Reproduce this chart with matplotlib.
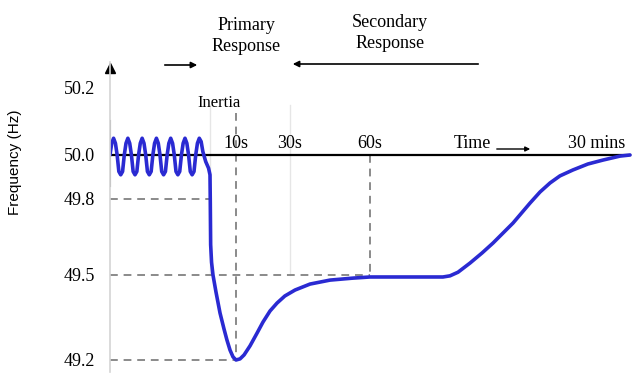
import numpy as np
import matplotlib
matplotlib.use('Agg')
import matplotlib.pyplot as plt

t_osc = [-7.0, -6.88, -6.75, -6.62, -6.5, -6.38, -6.25, -6.12,
         -6.0, -5.88, -5.75, -5.62, -5.5, -5.38, -5.25, -5.12,
         -5.0, -4.88, -4.75, -4.62, -4.5, -4.38, -4.25, -4.12,
         -4.0, -3.88, -3.75, -3.62, -3.5, -3.38, -3.25, -3.12,
         -3.0, -2.88, -2.75, -2.62, -2.5, -2.38, -2.25, -2.12,
         -2.0, -1.88, -1.75, -1.62, -1.5, -1.38, -1.25, -1.12,
         -1.0, -0.88, -0.75, -0.62, -0.5, -0.3, -0.1]
f_osc = [50.0, 50.035, 50.05, 50.035, 50.0, 49.925, 49.91, 49.925,
         50.0, 50.035, 50.05, 50.035, 50.0, 49.925, 49.91, 49.925,
         50.0, 50.035, 50.05, 50.035, 50.0, 49.925, 49.91, 49.925,
         50.0, 50.035, 50.05, 50.035, 50.0, 49.925, 49.91, 49.925,
         50.0, 50.035, 50.05, 50.035, 50.0, 49.925, 49.91, 49.925,
         50.0, 50.035, 50.05, 50.035, 50.0, 49.925, 49.91, 49.925,
         50.0, 50.035, 50.05, 50.04, 50.01, 49.97, 49.94]
t_resp = [0.0, 0.1, 0.25, 0.6, 1.15, 2.3, 3.85, 5.4, 6.5, 7.7, 8.85, 10.0,
          11.5, 13.0, 15.2, 17.8, 20.0, 22.6, 25.2, 28.1, 31.9, 37.5, 45.0,
          53.6, 60.0, 300.0, 548.0, 595.0, 649.0, 729.0, 810.0, 883.0, 1017.0,
          1131.0, 1198.0, 1265.0, 1331.0, 1418.0, 1518.0, 1619.0, 1733.0, 1800.0]
f_resp = [49.91, 49.8, 49.62, 49.55, 49.5, 49.44, 49.366, 49.309, 49.271, 49.235,
          49.211, 49.2, 49.204, 49.218, 49.25, 49.295, 49.334, 49.373, 49.401,
          49.426, 49.447, 49.468, 49.482, 49.489, 49.493, 49.493, 49.493, 49.497,
          49.511, 49.547, 49.587, 49.626, 49.705, 49.784, 49.832, 49.873, 49.905,
          49.932, 49.959, 49.977, 49.995, 50.0]

freq_ticks = [49.2, 49.5, 49.8, 50.0, 50.2]
time_marks = [10, 30, 60, 1579]
time_labels = ['10s', '30s', '60s', '30 mins']

# schematic (non-linear) axes: knots -> pixel positions
t_knots = [-8, -7, 0, 10, 30, 60, 1800, 2000]
x_px = [95.7, 110, 210, 236, 290, 370, 630, 659.9]
f_knots = [49.0, 49.2, 49.5, 49.8, 50.0, 50.2, 50.4]
y_px = [-416.7, -360, -275, -199, -155, -88, -21]


def fx(v):
    return np.interp(v, t_knots, x_px)


def fx_inv(v):
    return np.interp(v, x_px, t_knots)


def fy(v):
    return np.interp(v, f_knots, y_px)


def fy_inv(v):
    return np.interp(v, y_px, f_knots)


serif = 'Liberation Serif'
blue = '#2a2ad2'
dash_grey = '#8a8a8a'

fig = plt.figure(figsize=(6.4, 3.76), dpi=100)
ax = fig.add_axes([110 / 640, 4 / 376, 530 / 640, 310 / 376])
ax.set_xscale('function', functions=(fx, fx_inv))
ax.set_yscale('function', functions=(fy, fy_inv))
ax.set_xlim(fx_inv(110), fx_inv(640))
ax.set_ylim(fy_inv(-372), fy_inv(-62))

for s in ['top', 'right', 'bottom']:
    ax.spines[s].set_visible(False)
ax.spines['left'].set_color('#d4d4d4')
ax.spines['left'].set_linewidth(1.2)
ax.plot(-7, 50.26, marker='^', color='black', ms=7, clip_on=False)
ax.plot([-7, -7], [50.1, 49.86], color='#888888', lw=1.5)

ax.set_xticks([])
ax.set_yticks(freq_ticks)
ax.set_yticklabels(['%.1f' % v for v in freq_ticks], fontsize=13, family=serif)
ax.tick_params(axis='y', length=0, pad=11)
ax.set_ylabel('Frequency (Hz)', family='Liberation Sans', fontsize=11)
ax.yaxis.set_label_coords(-88 / 530, (372 - 162) / 310)

# faint guide lines
ax.plot([0, 0], [50.15, 49.5], color='#e6e6e6', lw=1)
ax.plot([30, 30], [50.15, 49.5], color='#e6e6e6', lw=1)

# dashed reference lines
dash = dict(color=dash_grey, lw=1.4, ls=(0, (4, 3)))
ax.plot([-7, 0], [49.8, 49.8], **dash)
ax.plot([-7, 60], [49.5, 49.5], **dash)
ax.plot([-7, 10], [49.2, 49.2], **dash)
ax.plot([10, 10], [50.125, 49.2], **dash)
ax.plot([60, 60], [50.0, 49.5], **dash)

# nominal frequency line
ax.plot([-7, 1800], [50.0, 50.0], color='black', lw=1.6)

# frequency trace
ax.plot(t_osc + t_resp, f_osc + f_resp, color=blue, lw=2.6,
        solid_joinstyle='round', solid_capstyle='round')

# time labels above the 50 Hz line
for tm, lab in zip(time_marks, time_labels):
    ax.text(tm, 50.008, lab, ha='center', va='bottom', fontsize=13, family=serif)
ax.text(743, 50.008, 'Time', ha='center', va='bottom', fontsize=13, family=serif)
ax.annotate('', xy=(533, 376 - 149), xytext=(494, 376 - 149), xycoords='figure pixels',
            arrowprops=dict(arrowstyle='-|>', color='black', lw=1, mutation_scale=7))
ax.text(3.6, 50.13, 'Inertia', ha='center', va='bottom', fontsize=12, family=serif)

# response annotations
fig.text(246 / 640, 1 - 36 / 376, 'Primary\nResponse', ha='center', va='center',
         fontsize=13, family=serif, linespacing=1.3)
fig.text(390 / 640, 1 - 33 / 376, 'Secondary\nResponse', ha='center', va='center',
         fontsize=13, family=serif, linespacing=1.3)
ax.annotate('', xy=(200, 376 - 65), xytext=(162, 376 - 65), xycoords='figure pixels',
            arrowprops=dict(arrowstyle='-|>', color='black', lw=1.2, mutation_scale=9))
ax.annotate('', xy=(290, 376 - 64), xytext=(481, 376 - 64), xycoords='figure pixels',
            arrowprops=dict(arrowstyle='-|>', color='black', lw=1.2, mutation_scale=9))

fig.savefig('out.png', dpi=100)
